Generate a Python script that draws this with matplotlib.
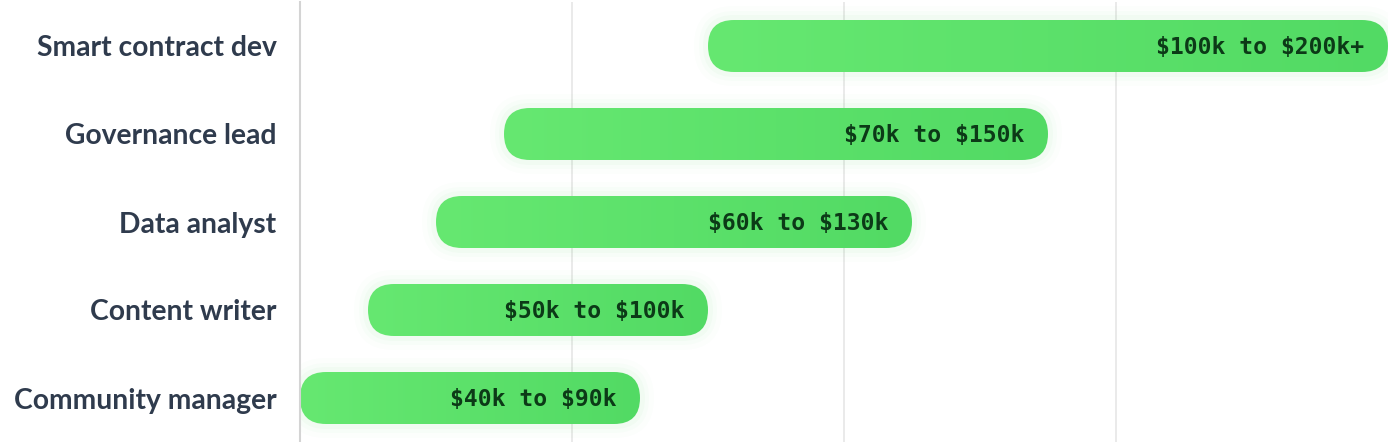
import matplotlib.pyplot as plt
import numpy as np
from matplotlib.patches import FancyBboxPatch
from matplotlib.colors import LinearSegmentedColormap

plt.rcParams["text.parse_math"] = False

roles = ["Smart contract dev", "Governance lead", "Data analyst",
         "Content writer", "Community manager"]
low_k = [100, 70, 60, 50, 40]
high_k = [200, 150, 130, 100, 90]
range_labels = ["$100k to $200k+", "$70k to $150k", "$60k to $130k",
                "$50k to $100k", "$40k to $90k"]

W, H = 1388, 442
fig = plt.figure(figsize=(W / 100, H / 100), dpi=100)
ax = fig.add_axes([300 / W, 0, 1 - 300 / W, 440 / H])

x0, x1 = 40, 200
ax.set_xlim(x0, x1)
ax.set_ylim(4.5, -0.5)

# pixel scales, used to keep the pill ends round
px_per_x = (W - 300) / (x1 - x0)
px_per_y = 440 / 5
bar_h = 52 / px_per_y
r_x = 26 / px_per_x
aspect = px_per_x / px_per_y

cmap = LinearSegmentedColormap.from_list("g", ["#66e871", "#52da64"])
grad = np.linspace(0, 1, 256).reshape(1, -1)

for i, (lo, hi, lab) in enumerate(zip(low_k, high_k, range_labels)):
    # soft glow
    for k, a in [(14, 0.015), (9, 0.025), (5, 0.035)]:
        gx = k / px_per_x
        gy = k / px_per_y
        glow = FancyBboxPatch((lo - gx, i - bar_h / 2 - gy), hi - lo + 2 * gx, bar_h + 2 * gy,
                              boxstyle=f"round,pad=0,rounding_size={r_x + gx}",
                              mutation_aspect=aspect, fc="#4fda63", ec="none",
                              alpha=a, zorder=1)
        ax.add_patch(glow)
    pill = FancyBboxPatch((lo, i - bar_h / 2), hi - lo, bar_h,
                          boxstyle=f"round,pad=0,rounding_size={r_x}",
                          mutation_aspect=aspect, fc="none", ec="none", zorder=2)
    ax.add_patch(pill)
    im = ax.imshow(grad, cmap=cmap, aspect="auto", zorder=2,
                   extent=(lo, hi, i + bar_h / 2, i - bar_h / 2), interpolation="bicubic")
    im.set_clip_path(pill)
    ax.text(hi - 24 / px_per_x, i + 0.02, lab, ha="right", va="center",
            fontsize=16.6, fontweight="bold", family="DejaVu Sans Mono",
            color="#0c3a17", zorder=3)

ax.set_xlim(x0, x1)
ax.set_ylim(4.5, -0.5)
ax.set_xticks([80, 120, 160])
ax.grid(axis="x", color="#e6e6e6", linewidth=1.2)
ax.set_axisbelow(True)
ax.tick_params(axis="x", length=0, labelbottom=False)
ax.set_yticks(range(len(roles)))
ax.set_yticklabels(roles, fontsize=20.3, fontweight="bold", family="Lato", color="#2f3b4d")
ax.tick_params(axis="y", length=0, pad=17)
for s in ["top", "right", "bottom"]:
    ax.spines[s].set_visible(False)
ax.spines["left"].set_color("#d4d4d4")
ax.spines["left"].set_linewidth(1.5)

fig.savefig("out.png", dpi=100)
